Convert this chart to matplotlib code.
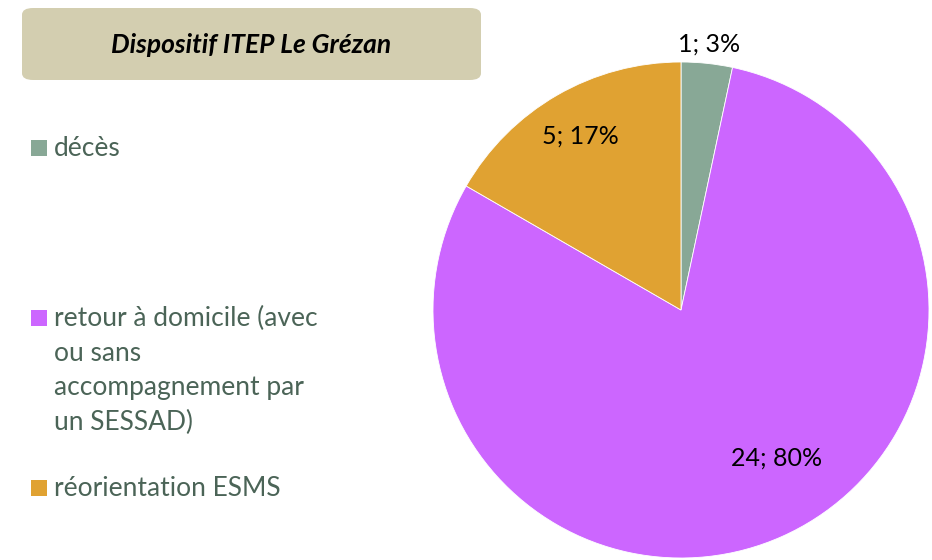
import numpy as np
import matplotlib.pyplot as plt
from matplotlib.patches import FancyBboxPatch, Rectangle

plt.rcParams['font.family'] = ['Lato', 'DejaVu Sans']

# Sorties du dispositif
categories = ['décès',
              'retour à domicile (avec\nou sans\naccompagnement par\nun SESSAD)',
              'réorientation ESMS']
values = [1, 24, 5]
colors = ['#88a896', '#cc66ff', '#e0a232']
title = 'Dispositif ITEP Le Grézan'

W, H = 932, 560
fig = plt.figure(figsize=(W / 100, H / 100), dpi=100)

# camembert
ax = fig.add_axes([433 / W, 2 / H, 496 / W, 496 / H])
wedges, _ = ax.pie(values, colors=colors, startangle=90, counterclock=False,
                   wedgeprops=dict(edgecolor='white', linewidth=0.6))
ax.set_xlim(-1, 1)
ax.set_ylim(-1, 1)
ax.set_aspect('equal')
ax.axis('off')

# étiquettes "valeur; pourcentage"
total = sum(values)
label_r = [1.08, 0.71, 0.81]
label_shift = [0, 9, 0]
for w, v, r, s in zip(wedges, values, label_r, label_shift):
    mid = np.deg2rad((w.theta1 + w.theta2) / 2 + s)
    pct = round(100 * v / total)
    ax.text(r * np.cos(mid), r * np.sin(mid), f'{v}; {pct}%',
            ha='center', va='center', fontsize=18, color='black', clip_on=False)

# cartouche du titre
box = FancyBboxPatch((22 / W, 1 - 80 / H), 459 / W, 72 / H,
                     boxstyle='round,pad=0,rounding_size=0.012',
                     transform=fig.transFigure, facecolor='#d3ceb0',
                     edgecolor='none')
fig.patches.append(box)
fig.text(251 / W, 1 - 45 / H, title, ha='center', va='center',
         fontsize=19, fontweight='bold', fontstyle='italic', color='black')

# légende
legend_y = [148, 318, 488]
for cat, col, y in zip(categories, colors, legend_y):
    fig.patches.append(Rectangle((31 / W, 1 - (y + 8) / H), 16 / W, 16 / H,
                                 transform=fig.transFigure, facecolor=col,
                                 edgecolor='none'))
    fig.text(54 / W, 1 - (y - 12) / H, cat, ha='left', va='top',
             fontsize=19, color='#4b6457', linespacing=1.48)

fig.savefig('out.png', dpi=100)
